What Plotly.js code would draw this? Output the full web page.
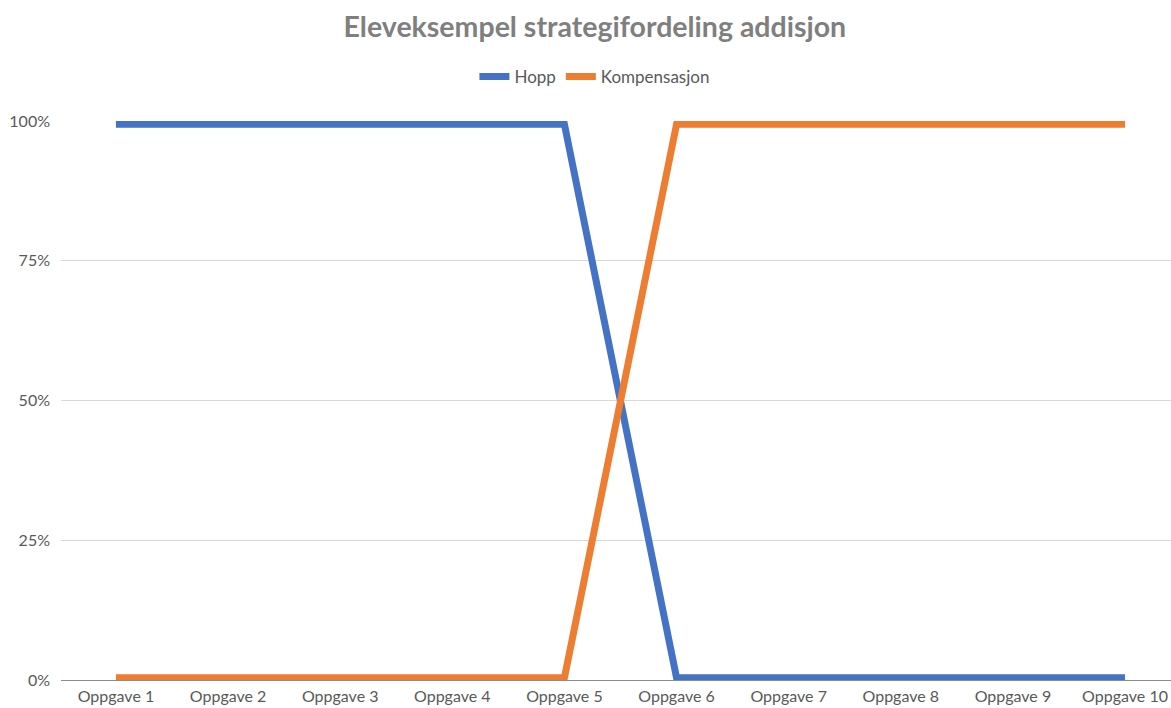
<!DOCTYPE html>
<html>
<head>
<meta charset="utf-8">
<script src="https://cdn.plot.ly/plotly-3.0.1.min.js"></script>
<style>html,body{margin:0;padding:0;background:#fff;}#chart{width:1171px;height:708px;}</style>
</head>
<body>
<div id="chart"></div>
<script>
const categories = ["Oppgave 1","Oppgave 2","Oppgave 3","Oppgave 4","Oppgave 5","Oppgave 6","Oppgave 7","Oppgave 8","Oppgave 9","Oppgave 10"];
const hopp = [99.4,99.4,99.4,99.4,99.4,0.4,0.4,0.4,0.4,0.4];
const kompensasjon = [0.4,0.4,0.4,0.4,0.4,99.4,99.4,99.4,99.4,99.4];
const yTickVals = [0,25,50,75,100];
const yTickText = ["0%","25%","50%","75%","100%"];

const font = "Lato, 'Open Sans', sans-serif";
const traces = [
  {x: categories, y: hopp, name: "Hopp", type: "scatter", mode: "lines",
   line: {color: "#4472C4", width: 7}},
  {x: categories, y: kompensasjon, name: "Kompensasjon", type: "scatter", mode: "lines",
   line: {color: "#ED7D31", width: 7}}
];
const layout = {
  width: 1171, height: 708,
  margin: {l: 61, r: 0, t: 121, b: 28},
  paper_bgcolor: "#fff", plot_bgcolor: "#fff",
  font: {family: font, size: 16, color: "#595959"},
  title: {text: "<b>Eleveksempel strategifordeling addisjon</b>", x: 0.508, xanchor: "center",
          y: 0.962, yanchor: "middle", font: {family: font, size: 28.5, color: "#7f7f7f"}},
  showlegend: true,
  legend: {orientation: "h", x: 0.481, xanchor: "center", y: 1.079, yanchor: "middle",
           font: {family: font, size: 17, color: "#595959"}, itemwidth: 30},
  xaxis: {type: "category", range: [-0.49, 9.41], showgrid: false, zeroline: false,
          showline: false, ticks: "", ticklabelstandoff: 5,
          tickfont: {family: font, size: 16, color: "#595959"}},
  yaxis: {range: [0, 100], tickvals: yTickVals, ticktext: yTickText, showgrid: true,
          gridcolor: "#d9d9d9", gridwidth: 1, zeroline: true, zerolinecolor: "#8c8c8c",
          zerolinewidth: 1, showline: false, ticks: "", ticklabelstandoff: 10,
          tickfont: {family: font, size: 16, color: "#595959"}}
};
Plotly.newPlot("chart", traces, layout, {displayModeBar: false, staticPlot: true});
</script>
</body>
</html>
